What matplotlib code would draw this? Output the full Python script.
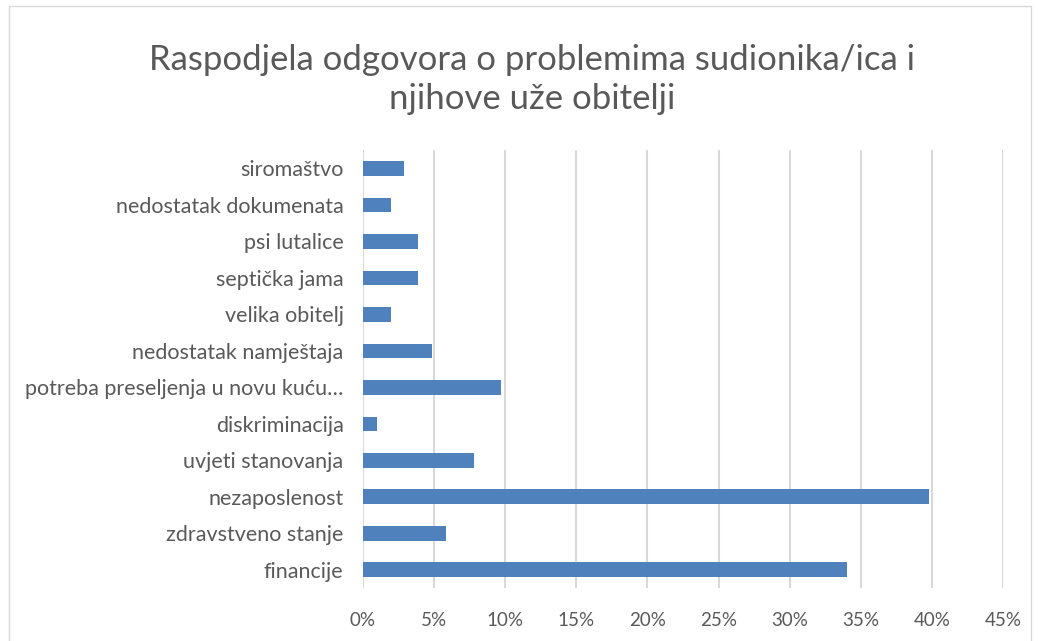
import matplotlib.pyplot as plt
from matplotlib.patches import Rectangle
from matplotlib.ticker import PercentFormatter

plt.rcParams['font.family'] = ['Lato', 'DejaVu Sans']

# categories from bottom to top, shares in percent
categories = ["financije", "zdravstveno stanje", "nezaposlenost", "uvjeti stanovanja",
              "diskriminacija", "potreba preseljenja u novu kuću…", "nedostatak namještaja",
              "velika obitelj", "septička jama", "psi lutalice", "nedostatak dokumenata",
              "siromaštvo"]
shares = [34.0, 5.83, 39.81, 7.77, 0.97, 9.71, 4.85, 1.94, 3.88, 3.88, 1.94, 2.91]
ticks = [0, 5, 10, 15, 20, 25, 30, 35, 40, 45]

fig = plt.figure(figsize=(10.41, 6.41), dpi=100)
# light chart border
fig.patches.append(Rectangle((0.009, -0.01), 0.981, 1.0, transform=fig.transFigure,
                             fill=False, edgecolor='#d9d9d9', linewidth=1))
ax = fig.add_axes([0.3487, 0.0827, 0.6148, 0.683])

ax.barh(range(len(categories)), shares, height=0.4, color='#4f81bd', zorder=3)

ax.set_xlim(0, 45)
ax.set_ylim(-0.5, len(categories) - 0.5)
ax.set_xticks(ticks)
ax.xaxis.set_major_formatter(PercentFormatter(decimals=0))
ax.set_yticks(range(len(categories)))
ax.set_yticklabels(categories)
ax.grid(axis='x', color='#d9d9d9', linewidth=1.5, zorder=0)
for s in ax.spines.values():
    s.set_visible(False)
ax.tick_params(length=0, colors='#595959')
ax.tick_params(axis='x', pad=17, labelsize=13.5)
ax.tick_params(axis='y', pad=14, labelsize=15.5)

fig.text(0.511, 0.876, "Raspodjela odgovora o problemima sudionika/ica i\nnjihove uže obitelji",
         ha='center', va='center', fontsize=25, color='#595959', linespacing=1.3)

fig.savefig("out.png")
